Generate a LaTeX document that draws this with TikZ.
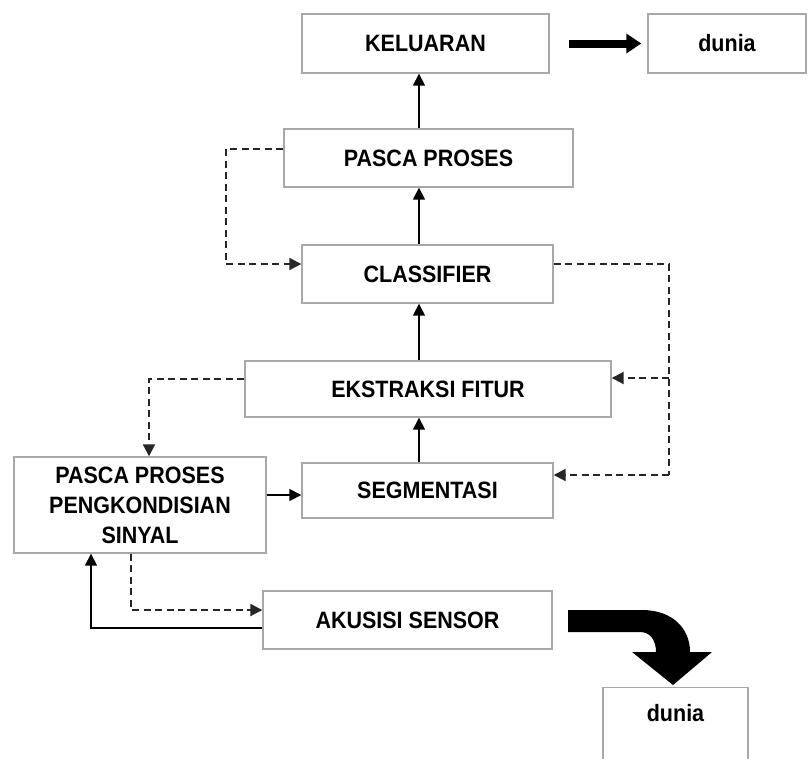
\documentclass[tikz,border=0pt]{standalone}
\usepackage{fontspec}
\usepackage{graphicx}
\setmainfont{Liberation Sans}
\usetikzlibrary{arrows.meta,calc}
\definecolor{boxgray}{HTML}{A8A8A8}
\definecolor{dashink}{HTML}{262626}
% slightly tall lettering for the block labels
\newcommand{\tall}[1]{\scalebox{1}[1.1]{#1}}
\begin{document}
\begin{tikzpicture}[x=1pt,y=-1pt,
  blok/.style={draw=boxgray, line width=1.4pt, fill=white, inner sep=0pt,
    font=\fontsize{21.5}{30}\selectfont\bfseries, align=center},
  arr/.style={line width=1.6pt, -{Triangle[length=12pt,width=12pt]}},
  dsh/.style={dashink, line width=2pt, dash pattern=on 7pt off 4.5pt},
  dsharr/.style={dsh, -{Triangle[length=12pt,width=12pt]}},
  fat/.style={line width=8pt, -{Triangle[length=15pt,width=19pt]}}]
\useasboundingbox (0,0) rectangle (810,758);
\clip (0,0) rectangle (810,758);
\fill[white] (0,0) rectangle (810,758);

% blocks of the processing chain
\node[blok, minimum width=247pt, minimum height=59pt] (kel) at (425.5,43.5) {\tall{KELUARAN}};
\node[blok, minimum width=158pt, minimum height=59pt] (dun1) at (727,43.5) {\tall{dunia}};
\node[blok, minimum width=289pt, minimum height=58pt] (pp) at (428.5,158) {\tall{PASCA PROSES}};
\node[blok, minimum width=251pt, minimum height=58pt] (cls) at (427.5,274) {\tall{CLASSIFIER}};
\node[blok, minimum width=366pt, minimum height=56pt] (ekst) at (428,389) {\tall{EKSTRAKSI FITUR}};
\node[blok, minimum width=251pt, minimum height=55pt] (seg) at (427.5,490.5) {\tall{SEGMENTASI}};
\node[blok, minimum width=252pt, minimum height=96pt] (ppk) at (140,505)
  {\tall{PASCA PROSES}\\\tall{PENGKONDISIAN}\\\tall{SINYAL}};
\node[blok, minimum width=289pt, minimum height=58pt] (aku) at (407.5,620) {\tall{AKUSISI SENSOR}};

% lower "dunia" box, running past the bottom edge
\node[blok, minimum width=145pt, minimum height=100pt, anchor=north] (dun2) at (675.5,687) {};
\node[font=\fontsize{21.5}{30}\selectfont\bfseries] (dun2t) at (675.5,713) {\tall{dunia}};

% vertical spine of the main chain
\coordinate (spine) at (419,0);
\draw[arr] (seg.north -| spine) -- (ekst.south -| spine);
\draw[arr] (ekst.north -| spine) -- (cls.south -| spine);
\draw[arr] (cls.north -| spine) -- (pp.south -| spine);
\draw[arr] (pp.north -| spine) -- (kel.south -| spine);

% feedback from post-processing to the classifier
\coordinate (lp) at (226,149);
\coordinate (lc) at (226,264);
\draw[dsharr] (pp.west |- lp) -- (lp) -- (lc) -- (cls.west |- lc);

% classifier feedback to feature extraction and segmentation
\coordinate (rt) at (669,264);
\coordinate (rm) at (669,378);
\coordinate (rb) at (669,475);
\draw[dsh] (cls.east |- rt) -- (rt) -- (rb);
\draw[dsharr] (rb) -- (seg.east |- rb);
\draw[dsharr] (rm) -- (ekst.east |- rm);

% feature extraction back to signal conditioning
\coordinate (lk) at (149,379);
\draw[dsharr] (ekst.west |- lk) -- (lk) -- (ppk.north -| lk);

% signal conditioning to segmentation
\coordinate (ms) at (0,495);
\draw[arr] (ppk.east |- ms) -- (seg.west |- ms);

% signal conditioning <-> sensor acquisition
\coordinate (da) at (131,610);
\draw[dsharr] (ppk.south -| da) -- (da) -- (aku.west |- da);
\coordinate (sa) at (91,628);
\draw[arr] (aku.west |- sa) -- (sa) -- (ppk.south -| sa);

% output to the world
\draw[fat] ([xshift=19pt]kel.east) -- ([xshift=-6pt]dun1.west);

% curved block arrow from the sensor down to the world
\fill[black] (568,610) -- (642,610)
  .. controls (672,610) and (690,628) .. (690,652)
  -- (712,652) -- (673,685) -- (632,652) -- (656,652)
  .. controls (656,640) and (650,632) .. (640,632)
  -- (568,632) -- cycle;
\end{tikzpicture}
\end{document}
